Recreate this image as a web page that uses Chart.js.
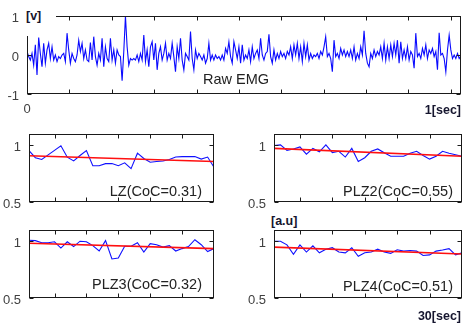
<!DOCTYPE html>
<html>
<head>
<meta charset="utf-8">
<script src="https://cdn.jsdelivr.net/npm/chart.js@4.4.1/dist/chart.umd.min.js"></script>
<style>
  body { margin: 0; background: #fff; }
  #fig { position: relative; width: 475px; height: 329px; overflow: hidden; font-family: "Liberation Sans", Arial, sans-serif; }
  #fig canvas { position: absolute; }
  .note { position: absolute; font-size: 14.5px; color: #222; white-space: nowrap; line-height: 1; }
  .unit { position: absolute; font-weight: bold; font-size: 12.5px; color: #15152e; white-space: nowrap; line-height: 1; background: #fff; box-sizing: border-box; }
</style>
</head>
<body>
<div id="fig">
  <canvas id="emg" width="475" height="120" style="left:0;top:0"></canvas>
  <canvas id="lz" width="235" height="100" style="left:0;top:118px"></canvas>
  <canvas id="plz2" width="240" height="100" style="left:235px;top:118px"></canvas>
  <canvas id="plz3" width="235" height="100" style="left:0;top:214px"></canvas>
  <canvas id="plz4" width="240" height="100" style="left:235px;top:214px"></canvas>

  <div class="unit" style="left:24px;top:6px;width:32px;height:30px;padding:4px 0 0 2px">[v]</div>
  <div class="unit" style="right:14px;top:104px">1[sec]</div>
  <div class="unit" style="left:269px;top:212px;width:38px;height:18px;padding:3px 0 0 2px">[a.u]</div>
  <div class="unit" style="right:14px;top:310px">30[sec]</div>

  <div class="note" style="left:203px;top:72px">Raw EMG</div>
  <div class="note" style="right:273px;top:184px">LZ(CoC=0.31)</div>
  <div class="note" style="right:22px;top:184px">PLZ2(CoC=0.55)</div>
  <div class="note" style="right:273px;top:277px">PLZ3(CoC=0.32)</div>
  <div class="note" style="right:22px;top:279px">PLZ4(CoC=0.51)</div>
</div>
<script>
// raw EMG, 1 s window
const emgRate = 254; // samples per second
const emgVolts = [
  0.09,-0.04,-0.13,0.04,-0.26,0.26,-0.51,0.45,0.04,-0.30,
  0.30,-0.21,0.13,0.30,-0.09,0.21,-0.13,0.00,-0.17,-0.04,
  -0.09,0.00,0.04,-0.17,0.56,0.13,-0.21,0.04,-0.09,-0.17,
  0.00,0.38,0.09,0.30,-0.09,0.13,-0.13,-0.17,0.32,-0.13,
  0.47,-0.04,-0.26,0.04,-0.13,0.43,-0.30,0.21,-0.09,-0.17,
  0.43,-0.13,0.13,-0.21,0.13,0.00,-0.04,-0.66,0.09,1.00,
  0.21,-0.26,-0.09,-0.13,-0.09,-0.13,0.00,-0.17,0.04,-0.13,
  0.51,-0.17,0.13,-0.30,0.21,0.34,-0.13,0.30,-0.38,0.04,
  0.21,-0.13,0.04,0.30,-0.13,0.04,-0.09,0.30,-0.04,-0.43,
  0.21,-0.09,0.43,-0.13,-0.38,0.04,-0.04,-0.13,0.60,-0.09,
  -0.38,0.13,-0.09,0.04,-0.04,-0.13,0.00,-0.21,-0.09,0.30,
  -0.13,0.00,-0.13,0.00,-0.09,-0.04,-0.13,0.00,-0.13,0.17,
  0.04,0.34,-0.04,-0.21,0.34,0.13,-0.09,0.21,
  -0.21,0.26,-0.13,0.00,-0.09,0.13,-0.17,0.21,-0.09,0.04,
  0.13,-0.09,0.43,0.00,-0.13,0.04,0.09,0.53,-0.04,-0.21,
  0.13,-0.13,0.04,-0.09,0.09,-0.04,0.04,-0.09,0.09,0.00,
  0.21,-0.09,0.26,0.00,0.30,-0.09,0.21,-0.17,0.30,-0.04,
  0.26,-0.13,0.04,-0.09,0.00,-0.04,0.04,-0.09,0.09,0.00,
  0.21,0.47,-0.04,0.04,-0.09,-0.43,0.38,-0.04,0.04,-0.09,
  0.17,0.00,0.13,-0.04,0.09,-0.04,0.13,-0.09,0.21,-0.13,
  0.04,-0.09,0.21,0.00,0.62,0.04,-0.21,-0.30,0.04,-0.09,
  0.13,-0.04,0.09,0.00,0.21,-0.09,0.30,-0.13,0.21,-0.09,
  0.26,-0.04,0.30,0.00,0.38,-0.21,0.34,-0.09,0.13,-0.09,
  0.21,-0.13,0.09,0.00,-0.34,0.56,-0.04,0.04,-0.09,0.17,
  0.00,0.26,-0.09,0.13,0.04,0.17,-0.04,0.09,-0.38,0.57,
  0.00,0.04,-0.09,-0.43,0.13,0.51,0.13,-0.09,0.00,-0.09,
  0.04,-0.09,-0.03
];
const emgTimeTicks = [0, 0.1, 0.2, 0.3, 0.4, 0.5, 0.6, 0.7, 0.8, 0.9, 1.0];
const emgVoltTicks = [-1, 0, 1];

// complexity per 1 s window over 30 s
const sessions = Array.from({ length: 30 }, (_, i) => i + 1);
const sessionTicks = [5, 10, 15, 20, 25];
const auTicks = [0.5, 1];

const lzVals = [0.953,0.89,0.875,0.915,0.955,0.995,0.895,0.862,0.91,0.953,
  0.82,0.82,0.838,0.84,0.82,0.845,0.794,0.93,0.883,0.85,
  0.857,0.862,0.875,0.896,0.9,0.9,0.9,0.878,0.896,0.806];
const plz2Vals = [0.998,1.003,0.954,0.967,0.985,0.921,0.972,0.942,1.003,0.934,
  0.947,0.896,0.972,0.857,0.89,0.947,0.967,0.934,0.903,0.903,
  0.903,0.929,0.947,0.909,0.878,0.903,0.947,0.929,0.916,0.903];
const plz3Vals = [1.008,1.005,0.987,0.987,0.995,0.94,0.995,0.953,1.0,0.995,
  0.961,0.914,1.005,0.844,0.852,0.956,0.956,0.987,0.904,0.979,
  0.969,0.948,0.961,0.914,0.935,0.953,1.013,0.969,0.909,0.935];
const plz4Vals = [1.0,1.0,0.968,0.885,0.968,0.905,0.96,0.898,0.93,0.943,
  0.905,0.898,0.943,0.868,0.898,0.905,0.93,0.905,0.893,0.925,
  0.913,0.918,0.913,0.875,0.88,0.913,0.923,0.935,0.88,0.898];

// linear fit end points (first and last window)
const lzTrend = [0.908, 0.857];
const plz2Trend = [0.972, 0.903];
const plz3Trend = [0.982, 0.935];
const plz4Trend = [0.948, 0.888];

const tickFont = { family: '"Liberation Sans", Arial, sans-serif', size: 13 };
const tickColor = '#404040';

// box around the plot area with inward tick marks, matlab style
const boxFrame = {
  id: 'boxFrame',
  afterDraw(chart) {
    const { ctx, chartArea: a, scales } = chart;
    const L = Math.round(a.left) + 0.5, R = Math.round(a.right) - 0.5;
    const T = Math.round(a.top) + 0.5, B = Math.round(a.bottom) - 0.5;
    ctx.save();
    ctx.strokeStyle = '#1a1a1a';
    ctx.lineWidth = 1;
    ctx.beginPath();
    scales.x.ticks.forEach(t => {
      const x = Math.round(scales.x.getPixelForValue(t.value)) + 0.5;
      ctx.moveTo(x, B); ctx.lineTo(x, B - 4);
      ctx.moveTo(x, T); ctx.lineTo(x, T + 4);
    });
    scales.y.ticks.forEach(t => {
      const y = Math.round(scales.y.getPixelForValue(t.value)) + 0.5;
      ctx.moveTo(L, y); ctx.lineTo(L + 4, y);
      ctx.moveTo(R, y); ctx.lineTo(R - 4, y);
    });
    ctx.stroke();
    ctx.strokeRect(L, T, R - L, B - T);
    ctx.restore();
  }
};

function setTicks(values) {
  return scale => { scale.ticks = values.map(v => ({ value: v })); };
}

const plainLabel = v => String(v);

new Chart(document.getElementById('emg'), {
  type: 'line',
  data: {
    datasets: [{
      data: emgVolts.map((v, i) => ({ x: i / emgRate, y: v })),
      borderColor: '#0a0aff',
      borderWidth: 1.1,
      pointRadius: 0,
      tension: 0
    }]
  },
  options: {
    responsive: false,
    animation: false,
    events: [],
    layout: { padding: { top: 16, right: 14, left: 0, bottom: 0 } },
    plugins: { legend: { display: false }, tooltip: { enabled: false } },
    scales: {
      x: {
        type: 'linear', min: 0, max: 1.024,
        grid: { display: false, drawTicks: false },
        border: { display: false },
        afterBuildTicks: setTicks(emgTimeTicks),
        afterFit: s => { s.height = 26; },
        ticks: { padding: 8, autoSkip: false, maxRotation: 0, color: tickColor, font: tickFont,
                 callback: v => (v === 0 ? '0' : '') }
      },
      y: {
        min: -1, max: 1,
        grid: { display: false, drawTicks: false },
        border: { display: false },
        afterBuildTicks: setTicks(emgVoltTicks),
        afterFit: s => { s.width = 27; },
        ticks: { padding: 8, labelOffset: 2, color: tickColor, font: tickFont, callback: plainLabel }
      }
    }
  },
  plugins: [boxFrame]
});

function complexityChart(id, values, trend, axisWidth, rightPad) {
  return new Chart(document.getElementById(id), {
    type: 'line',
    data: {
      datasets: [{
        data: [{ x: sessions[0], y: trend[0] }, { x: sessions[sessions.length - 1], y: trend[1] }],
        borderColor: '#ff1010',
        borderWidth: 1.6,
        pointRadius: 0,
        order: 0
      }, {
        data: values.map((v, i) => ({ x: sessions[i], y: v })),
        borderColor: '#1010ff',
        borderWidth: 1.1,
        pointRadius: 0,
        tension: 0,
        order: 1
      }]
    },
    options: {
      responsive: false,
      animation: false,
      events: [],
      layout: { padding: { top: 10, right: rightPad, left: 0, bottom: 0 } },
      plugins: { legend: { display: false }, tooltip: { enabled: false } },
      scales: {
        x: {
          type: 'linear', min: 1, max: 30,
          grid: { display: false, drawTicks: false },
          border: { display: false },
          afterBuildTicks: setTicks(sessionTicks),
          afterFit: s => { s.height = 11; },
          ticks: { display: false }
        },
        y: {
          min: 0.5, max: 1.1,
          grid: { display: false, drawTicks: false },
          border: { display: false },
          afterBuildTicks: setTicks(auTicks),
          afterFit: s => { s.width = axisWidth; },
          ticks: { padding: 8, labelOffset: 2, color: tickColor, font: tickFont, callback: plainLabel }
        }
      }
    },
    plugins: [boxFrame]
  });
}

complexityChart('lz', lzVals, lzTrend, 29, 21);
complexityChart('plz2', plz2Vals, plz2Trend, 39, 13);
complexityChart('plz3', plz3Vals, plz3Trend, 29, 21);
complexityChart('plz4', plz4Vals, plz4Trend, 39, 13);
</script>
</body>
</html>
